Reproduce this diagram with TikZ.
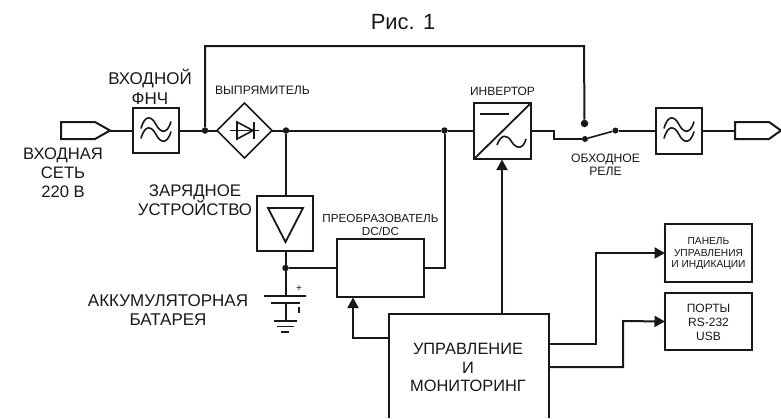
\documentclass[tikz,border=0pt]{standalone}
\usepackage{fontspec}
\setmainfont{Liberation Sans}
\usetikzlibrary{arrows.meta}
\definecolor{ink}{HTML}{1A1718}
\tikzset{
  x=1pt,y=-1pt,
  wire/.style={draw=ink,line width=2pt,line join=miter},
  boxn/.style={draw=ink,line width=2pt,fill=white,minimum width=#1,inner sep=0pt,outer sep=0pt},
  jdot/.style={circle,fill=ink,inner sep=0pt,minimum size=#1},
  arr/.style={wire,-{Triangle[length=10.5pt,width=11pt]}},
  lab/.style 2 args={text=ink,align=center,font=\fontsize{#1}{#2}\selectfont,inner sep=0pt},
  sym/.style={draw=ink,line width=1.6pt,line join=miter},
}
\newcommand{\sinepair}[2]{%
  \draw[sym] (#1-15,#2-2) .. controls (#1-11,#2-17) and (#1-4,#2-14) .. (#1,#2-6) .. controls (#1+4,#2+2) and (#1+11,#2+5) .. (#1+15,#2-9);
  \draw[sym] (#1-15,#2+8) .. controls (#1-11,#2-7) and (#1-4,#2-4) .. (#1,#2+4) .. controls (#1+4,#2+12) and (#1+11,#2+15) .. (#1+15,#2+1);
}
\begin{document}
\begin{tikzpicture}
\useasboundingbox (0,0) rectangle (781,418);
\coordinate (top1) at (205,46);
\coordinate (top2) at (584,46);
\node[jdot=6.5pt] (dA) at (205,130.5) {};
\node[jdot=6.5pt] (dB) at (286,130.5) {};
\node[jdot=6.5pt] (dC) at (444.5,130.5) {};
\node[jdot=6.5pt] (dD) at (285.5,268) {};
\node[jdot=7.5pt] (dE) at (584.5,123.5) {};
\node[jdot=6pt] (dF) at (585,139) {};
\node[jdot=6pt] (dG) at (615.5,130.5) {};
\coordinate (gnd) at (285.5,321);
\coordinate (bat) at (285.5,296);
% blocks
\draw[boxn] (61,122) -- (95,122) -- (110,130.5) -- (95,139) -- (61,139) -- cycle;
\coordinate (inTip) at (110,130.5);
\node[boxn=46pt,minimum height=45pt] (fnh) at (156,130.5) {};
\draw[boxn,line width=1.6pt] (217,130.5) -- (244.5,103) -- (272,130.5) -- (244.5,158) -- cycle;
\coordinate (dL) at (217,130.5);
\coordinate (dR) at (272,130.5);
\node[boxn=57pt,minimum height=56pt] (inv) at (502.5,131) {};
\node[boxn=46pt,minimum height=46pt] (out) at (679,131) {};
\draw[boxn] (735,122) -- (769,122) -- (781,130.5) -- (769,139) -- (735,139) -- cycle;
\coordinate (outL) at (735,130.5);
\node[boxn=56pt,minimum height=55pt] (chg) at (285,223.5) {};
\node[boxn=87pt,minimum height=58pt] (dcdc) at (380.5,268) {};
\node[boxn=87pt,minimum height=58pt] (panel) at (708.5,253) {};
\node[boxn=87pt,minimum height=57pt] (ports) at (708.5,321.5) {};
\draw[boxn] (548.5,418) -- (548.5,314) -- (389,314) -- (389,418);
\coordinate (ctlT) at (502,314);
% connectors
\draw[wire] (inTip) -- (fnh.west);
\draw[wire] (fnh.east) -- (dA) -- (dL);
\draw[wire] (dA) -- (top1) -- (top2) -- (dE);
\draw[wire] (dR) -- (dB) -- (dC) -- (474,130.5);
\draw[wire] (531,130.5) -- (554,130.5) -- (554,139) -- (dF);
\draw[wire,line width=1.6pt] (dF) -- (dG);
\draw[wire] (dG) -- (out.west |- dG);
\draw[wire] (out.east |- outL) -- (outL);
\draw[wire] (dB) -- (dB |- chg.north);
\draw[wire] (chg.south -| dD) -- (dD) -- (bat);
\draw[wire] (dD) -- (dcdc.west |- dD);
\draw[wire] (dcdc.east |- dD) -- (444.5,268) -- (dC);
\draw[arr] (ctlT) -- (502,159.5);
\draw[arr] (389,338) -- (353,338) -- (353,297.5);
\draw[arr] (548.5,343.5) -- (596,343.5) -- (596,253) -- (panel.west);
\draw[arr] (548.5,367) -- (623,367) -- (623,321) -- (ports.west);
% block symbols
\sinepair{156}{130.5}
\sinepair{679}{130.5}
\draw[sym] (230,130.5) -- (259,130.5);
\draw[sym] (237,122) -- (237,139) -- (253,130.5) -- cycle;
\draw[sym,line width=1.8pt] (254,122) -- (254,139);
\draw[sym,line width=1.8pt] (474,159) -- (531,103);
\draw[sym] (480,114) -- (509,114);
\draw[sym] (497,145) .. controls (501,134) and (507,134) .. (511.5,141.5) .. controls (516,149) and (523,150) .. (526,139);
\draw[sym,line width=1.8pt] (268,208) -- (303,208) -- (285.5,242) -- cycle;
% battery
\draw[wire] (264,296) -- (306,296);
\draw[wire] (271,303) -- (300,303);
\draw[wire] (285.5,303) -- (gnd);
\draw[wire] (274,321) -- (297,321);
\draw[wire,line width=1.5pt] (277,326.5) -- (294,326.5);
\draw[wire,line width=1.5pt] (281,332) -- (289,332);
\draw[wire,line width=1.5pt] (299,307) -- (299,313);
% labels
\node[lab={22}{24}] (t0) at (403,22) {Рис. 1};
\node[lab={17}{20}] (t1) at (150,87) {ВХОДНОЙ\\ФНЧ};
\node[lab={12.2}{14}] (t2) at (262.5,90) {ВЫПРЯМИТЕЛЬ};
\node[lab={16.6}{19}] (t3) at (63,173) {ВХОДНАЯ\\СЕТЬ\\220 В};
\node[lab={16.8}{19.5}] (t4) at (195,200) {ЗАРЯДНОЕ\\УСТРОЙСТВО};
\node[lab={11.7}{13}] (t5) at (380.5,225) {ПРЕОБРАЗОВАТЕЛЬ\\DC/DC};
\node[lab={17}{19}] (t6) at (168,310) {АККУМУЛЯТОРНАЯ\\БАТАРЕЯ};
\node[lab={10}{10}] (t7) at (299,289) {+};
\node[lab={12}{14}] (t8) at (502.5,91.5) {ИНВЕРТОР};
\node[lab={12.2}{13}] (t9) at (605.5,165) {ОБХОДНОЕ\\РЕЛЕ};
\node[lab={10.2}{11.5}] (t10) at (708.5,254) {ПАНЕЛЬ\\УПРАВЛЕНИЯ\\И ИНДИКАЦИИ};
\node[lab={12}{14}] (t11) at (708.5,322.5) {ПОРТЫ\\RS-232\\USB};
\node[lab={16.4}{18.5}] (t12) at (468,367.5) {УПРАВЛЕНИЕ\\И\\МОНИТОРИНГ};
\end{tikzpicture}
\end{document}
